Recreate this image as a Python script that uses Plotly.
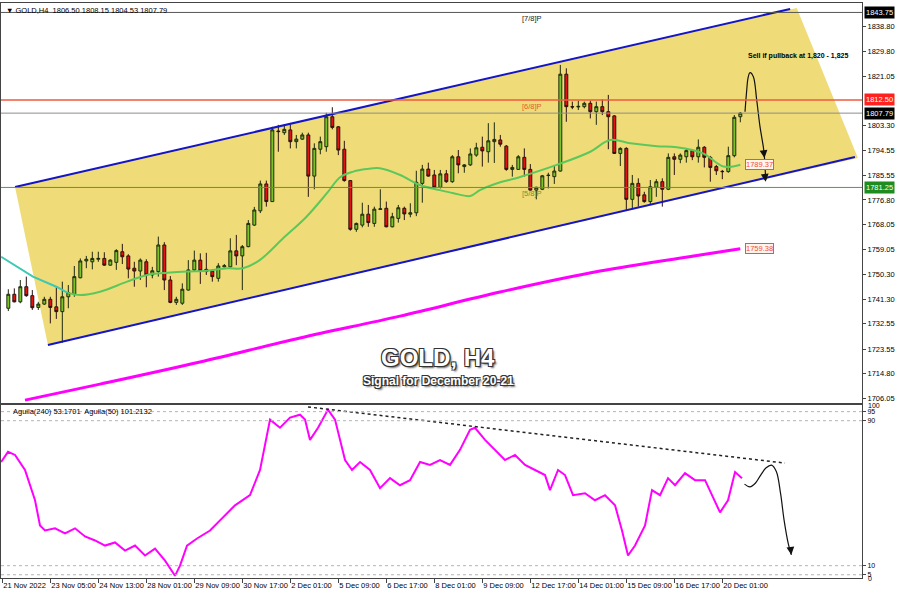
import plotly.graph_objects as go

# ---------------- data ----------------
bar = list(range(1, 124))
open_ = [1738.1, 1743.1, 1740.4, 1745.8, 1742.6, 1738.4, 1739.6, 1741.3, 1738.6, 1736.9,
         1742.2, 1743.1, 1749.0, 1755.0, 1754.7, 1755.6, 1755.9, 1753.5, 1754.5, 1758.3,
         1756.8, 1752.4, 1751.4, 1754.7, 1750.0, 1751.2, 1760.7, 1748.2, 1740.2, 1739.9,
         1744.6, 1751.8, 1755.3, 1752.0, 1751.4, 1748.8, 1752.9, 1752.9, 1758.6, 1756.8,
         1760.1, 1767.8, 1772.9, 1782.5, 1776.2, 1801.4, 1800.8, 1801.8, 1797.6, 1798.5,
         1800.0, 1785.3, 1794.9, 1795.8, 1806.5, 1802.9, 1794.9, 1783.7, 1766.3, 1767.8,
         1771.7, 1768.4, 1773.4, 1773.8, 1767.2, 1770.2, 1773.8, 1771.7, 1772.2, 1782.7,
         1787.8, 1785.7, 1781.3, 1786.1, 1783.3, 1792.2, 1788.7, 1789.3, 1792.8, 1795.6,
         1794.0, 1797.6, 1798.2, 1796.0, 1787.7, 1787.7, 1792.0, 1787.7, 1780.3, 1780.6,
         1785.5, 1785.1, 1787.1, 1821.7, 1810.1, 1810.0, 1810.1, 1811.3, 1808.3, 1810.1,
         1808.3, 1806.8, 1793.4, 1795.2, 1777.0, 1782.7, 1778.6, 1776.2, 1781.3, 1783.3,
         1780.6, 1792.2, 1791.3, 1792.2, 1794.4, 1792.2, 1795.6, 1792.0, 1788.7, 1787.0,
         1786.9, 1792.6, 1806.50]
high = [1744.9, 1745.2, 1748.2, 1749.4, 1744.6, 1740.4, 1742.2, 1742.2, 1745.6, 1747.6,
        1746.4, 1753.2, 1755.9, 1756.8, 1758.3, 1758.3, 1758.1, 1755.6, 1759.2, 1761.1,
        1757.4, 1754.7, 1755.9, 1755.6, 1752.9, 1763.7, 1761.7, 1749.6, 1742.2, 1747.0,
        1755.3, 1758.7, 1757.7, 1757.9, 1752.0, 1754.2, 1753.9, 1763.1, 1764.3, 1760.7,
        1769.6, 1774.3, 1783.7, 1783.7, 1802.9, 1803.6, 1803.8, 1803.8, 1800.0, 1800.8,
        1800.8, 1797.0, 1799.4, 1807.9, 1809.9, 1803.2, 1797.9, 1783.9, 1768.7, 1775.8,
        1775.0, 1774.4, 1780.6, 1776.2, 1772.2, 1775.0, 1774.4, 1775.6, 1787.2, 1789.3,
        1790.1, 1787.5, 1787.5, 1787.5, 1792.8, 1794.6, 1789.6, 1795.2, 1797.2, 1799.4,
        1804.2, 1804.5, 1800.0, 1796.4, 1789.3, 1792.8, 1795.2, 1789.6, 1781.5, 1785.7,
        1786.5, 1788.9, 1825.0, 1823.8, 1811.9, 1812.2, 1811.9, 1812.2, 1811.9, 1812.7,
        1814.3, 1807.1, 1795.6, 1795.6, 1785.7, 1784.5, 1779.7, 1783.9, 1784.2, 1784.5,
        1793.4, 1793.4, 1793.4, 1795.2, 1794.9, 1798.4, 1796.0, 1792.5, 1789.3, 1787.5,
        1795.8, 1807.1, 1808.15]
low = [1737.1, 1740.2, 1739.9, 1742.2, 1737.5, 1737.5, 1739.3, 1732.7, 1734.3, 1725.8,
       1738.1, 1742.2, 1748.8, 1752.4, 1752.0, 1754.7, 1753.3, 1753.3, 1751.8, 1753.9,
       1748.8, 1745.8, 1748.2, 1745.6, 1748.8, 1749.4, 1744.6, 1739.9, 1739.3, 1739.3,
       1744.4, 1751.2, 1746.8, 1750.0, 1747.6, 1747.6, 1752.7, 1752.7, 1753.5, 1744.6,
       1759.9, 1767.5, 1772.1, 1774.4, 1776.1, 1794.0, 1800.0, 1795.2, 1795.2, 1798.2,
       1777.9, 1780.6, 1793.1, 1794.0, 1802.0, 1792.8, 1783.3, 1765.8, 1765.4, 1767.0,
       1767.2, 1767.2, 1773.2, 1767.0, 1767.0, 1768.7, 1769.6, 1770.6, 1771.0, 1775.8,
       1785.1, 1780.9, 1780.9, 1782.9, 1782.9, 1786.3, 1786.5, 1788.9, 1792.2, 1788.7,
       1790.1, 1790.0, 1795.8, 1787.2, 1785.1, 1787.5, 1785.1, 1780.1, 1777.0, 1780.3,
       1780.9, 1782.5, 1786.9, 1804.7, 1809.2, 1808.9, 1809.5, 1805.9, 1803.6, 1807.1,
       1794.9, 1793.2, 1788.9, 1773.2, 1773.4, 1774.4, 1775.8, 1775.3, 1777.9, 1774.4,
       1780.3, 1785.7, 1789.9, 1790.1, 1791.0, 1790.1, 1788.4, 1783.3, 1785.7, 1784.2,
       1786.5, 1792.0, 1804.53]
close = [1743.1, 1740.4, 1745.8, 1742.6, 1738.3, 1739.6, 1741.3, 1738.4, 1736.9, 1742.2,
         1743.7, 1749.4, 1755.0, 1755.6, 1755.9, 1755.9, 1753.5, 1755.3, 1758.7, 1756.5,
         1752.1, 1751.4, 1755.3, 1750.0, 1751.5, 1760.7, 1748.2, 1740.2, 1741.3, 1744.9,
         1751.8, 1755.3, 1751.5, 1751.2, 1749.4, 1753.2, 1753.3, 1758.6, 1756.8, 1760.1,
         1768.4, 1773.2, 1782.5, 1776.2, 1801.8, 1801.2, 1802.0, 1797.6, 1798.5, 1800.0,
         1785.3, 1795.2, 1797.6, 1806.5, 1802.7, 1794.6, 1783.7, 1766.3, 1768.4, 1771.7,
         1768.7, 1773.5, 1773.6, 1767.2, 1770.8, 1774.0, 1771.8, 1772.2, 1783.1, 1787.8,
         1785.3, 1781.3, 1786.1, 1783.3, 1792.2, 1789.3, 1789.3, 1793.2, 1795.4, 1794.3,
         1797.9, 1798.4, 1796.7, 1787.7, 1788.4, 1792.2, 1787.7, 1780.3, 1781.3, 1785.4,
         1785.6, 1787.1, 1821.7, 1810.1, 1810.0, 1810.2, 1811.3, 1808.3, 1810.1, 1808.3,
         1806.5, 1793.4, 1795.2, 1777.0, 1782.7, 1778.2, 1776.2, 1781.5, 1783.3, 1780.6,
         1792.0, 1791.3, 1792.8, 1794.4, 1792.2, 1795.6, 1792.0, 1788.4, 1787.2, 1786.9,
         1792.6, 1806.3, 1807.79]

# fast moving average (green line), sampled points
ma_bar = [-0.2, 5.1, 9.1, 10.8, 12.95, 16.3, 20.8, 24.1, 27.5, 30.8, 34.1, 37.5, 40.1, 42.9,
          46.8, 50.7, 54.1, 56.3, 58.5, 60.7, 62.9, 66.3, 69.6, 72.9, 75.2, 78.0, 79.6, 82.1,
          86.3, 92.4, 98.0, 101.3, 104.7, 109.1, 112.4, 116.8, 120.2, 123.0]
ma_val = [1756.5, 1749.4, 1745.7, 1743.7, 1742.8, 1744.0, 1747.6, 1750.0, 1750.8, 1751.2,
          1751.5, 1752.4, 1752.4, 1755.3, 1763.1, 1770.8, 1779.2, 1784.9, 1786.9, 1787.8,
          1788.1, 1785.7, 1782.1, 1780.3, 1779.2, 1778.2, 1780.3, 1782.5, 1785.0, 1789.3,
          1794.0, 1798.2, 1797.0, 1796.0, 1795.6, 1793.4, 1788.7, 1789.37]

# slow moving average (magenta line)
ma_slow_bar = [3.78, 16.28, 32.95, 49.62, 66.28, 82.95, 99.62, 116.28, 123.0]
ma_slow_val = [1705.3, 1711.0, 1718.9, 1727.5, 1735.3, 1743.9, 1751.4, 1757.1, 1759.38]

# Aguila oscillator (lower panel)
osc_bar = [-0.2, 0.95, 2.12, 3.78, 5.45, 6.28, 7.12, 8.78, 10.45, 12.12, 13.78, 15.45, 17.12,
           18.78, 20.45, 22.12, 23.78, 25.45, 27.12, 27.95, 28.78, 29.62, 30.78, 32.45, 34.62,
           36.28, 38.78, 41.28, 42.95, 44.62, 46.28, 47.95, 49.62, 50.45, 51.28, 52.62, 54.28,
           55.45, 57.12, 58.28, 59.62, 61.28, 62.95, 64.62, 66.28, 67.95, 69.62, 71.28, 72.95,
           74.62, 76.28, 77.95, 78.78, 80.45, 82.12, 83.78, 85.45, 87.12, 88.78, 90.45, 91.28,
           92.62, 93.78, 95.12, 97.12, 98.78, 100.45, 102.12, 103.28, 104.28, 105.45, 107.12,
           108.28, 109.62, 110.95, 112.12, 113.78, 115.45, 117.12, 118.28, 119.62, 120.95,
           122.12, 123.28]
osc_val = [67.2, 72.8, 71.1, 62.8, 46.1, 32.2, 29.4, 30.6, 27.8, 30.6, 26.1, 23.9, 21.1,
           22.8, 18.3, 21.1, 15.6, 19.4, 12.8, 8.9, 4.4, 10.0, 21.1, 25.0, 29.4,
           35.0, 43.3, 48.9, 62.8, 90.6, 86.1, 91.7, 93.3, 90.6, 79.4, 86.1, 96.1,
           90.6, 68.3, 62.8, 67.2, 62.8, 52.8, 58.3, 54.4, 57.2, 67.2, 65.6, 68.3,
           65.6, 73.9, 85.0, 86.1, 79.4, 73.9, 68.3, 71.1, 65.6, 62.8, 60.0, 51.7,
           62.8, 60.0, 48.9, 50.0, 46.1, 48.9, 43.3, 29.4, 15.6, 21.1, 32.2,
           51.7, 48.9, 58.3, 54.4, 61.1, 57.2, 57.2, 48.9, 39.4, 46.1,
           61.7, 58.3]
osc_levels = [95, 90, 10, 5]

# time axis labels
tick_bars = [0, 8, 16, 24, 32, 40, 48, 56, 64, 72, 80, 88, 96, 104, 112, 120]
tick_text = ["21 Nov 2022", "23 Nov 05:00", "24 Nov 13:00", "28 Nov 01:00", "29 Nov 09:00",
             "30 Nov 17:00", "2 Dec 01:00", "5 Dec 09:00", "6 Dec 17:00", "8 Dec 01:00",
             "9 Dec 09:00", "12 Dec 17:00", "14 Dec 01:00", "15 Dec 09:00", "16 Dec 17:00",
             "20 Dec 01:00"]
price_ticks = [1838.80, 1829.80, 1821.05, 1803.30, 1794.55, 1785.55, 1776.80, 1768.05,
               1759.05, 1750.30, 1741.30, 1732.55, 1723.55, 1714.80, 1706.05]

level_78 = 1843.75
level_68 = 1812.50
level_58 = 1781.25
last_price = 1807.79

# channel (trend lines) anchors
chan_up_bar = [2.12, 131.3]
chan_up_val = [1781.4, 1845.0]
chan_lo_bar = [7.6, 142.1]
chan_lo_val = [1725.0, 1792.1]
chan_fill_bar = [2.12, 132.4, 142.6, 7.6]
chan_fill_val = [1781.4, 1845.3, 1791.8, 1725.0]

# hand-drawn projection curves
proj_bar = [123.78, 124.07, 124.28, 124.62, 125.17, 125.73, 126.28, 126.83, 127.03, 127.23]
proj_val = [1808.3, 1816.05, 1820.33, 1822.23, 1820.8, 1812.48, 1802.94, 1795.8, 1791.76, 1783.9]
osc_proj_bar = [123.7, 124.6, 125.5, 126.4, 127.3, 128.2, 129.0, 129.7, 130.3, 131.0, 131.5]
osc_proj_val = [55.0, 53.5, 55.5, 60.0, 64.0, 65.5, 62.0, 50.0, 35.0, 22.0, 16.0]
osc_trend_bar = [50.95, 130.45]
osc_trend_val = [97.6, 66.6]

# ---------------- figure ----------------
X_RANGE = [-0.22, 143.28]
Y_RANGE = [1704.26, 1847.12]
O_RANGE = [3.2, 98.67]
FONT = "Liberation Sans, Arial, sans-serif"

fig = go.Figure()

fig.add_trace(go.Scatter(x=ma_bar[:4], y=ma_val[:4], mode="lines", line=dict(color="#3cc8b4", width=2),
                         xaxis="x", yaxis="y", hoverinfo="skip", showlegend=False))
fig.add_trace(go.Scatter(x=ma_bar[3:], y=ma_val[3:], mode="lines", line=dict(color="#5cc85c", width=2, shape="spline"),
                         xaxis="x", yaxis="y", hoverinfo="skip", showlegend=False))
fig.add_trace(go.Scatter(x=ma_slow_bar, y=ma_slow_val, mode="lines", line=dict(color="#ff00ff", width=3, shape="spline"),
                         xaxis="x", yaxis="y", hoverinfo="skip", showlegend=False))

fig.add_trace(go.Candlestick(
    x=bar, open=open_, high=high, low=low, close=close, xaxis="x", yaxis="y",
    increasing=dict(line=dict(color="#1e2a10", width=1), fillcolor="#7cc425"),
    decreasing=dict(line=dict(color="#2a1010", width=1), fillcolor="#e0150f"),
    whiskerwidth=0, showlegend=False, hoverinfo="skip"))

fig.add_trace(go.Scatter(x=chan_up_bar, y=chan_up_val, mode="lines", line=dict(color="#1414c8", width=2),
                         xaxis="x", yaxis="y", hoverinfo="skip", showlegend=False))
fig.add_trace(go.Scatter(x=chan_lo_bar, y=chan_lo_val, mode="lines", line=dict(color="#1414c8", width=2),
                         xaxis="x", yaxis="y", hoverinfo="skip", showlegend=False))
fig.add_trace(go.Scatter(x=proj_bar, y=proj_val, mode="lines", line=dict(color="#111111", width=1.2, shape="spline"),
                         xaxis="x", yaxis="y", hoverinfo="skip", showlegend=False))

# lower panel
fig.add_trace(go.Scatter(x=osc_bar, y=osc_val, mode="lines", line=dict(color="#ff00ff", width=2),
                         xaxis="x2", yaxis="y2", hoverinfo="skip", showlegend=False))
fig.add_trace(go.Scatter(x=osc_trend_bar, y=osc_trend_val, mode="lines", line=dict(color="#222222", width=1.5, dash="dot"),
                         xaxis="x2", yaxis="y2", hoverinfo="skip", showlegend=False))
fig.add_trace(go.Scatter(x=osc_proj_bar, y=osc_proj_val, mode="lines", line=dict(color="#111111", width=1.2, shape="spline"),
                         xaxis="x2", yaxis="y2", hoverinfo="skip", showlegend=False))

shapes = []
path = "M " + " L ".join(f"{b},{v}" for b, v in zip(chan_fill_bar, chan_fill_val)) + " Z"
shapes.append(dict(type="path", path=path, xref="x", yref="y", fillcolor="#efdc78", line=dict(width=0), layer="below"))
shapes.append(dict(type="line", xref="x domain", yref="y", x0=0, x1=1, y0=level_78, y1=level_78,
                   line=dict(color="#555555", width=1)))
shapes.append(dict(type="line", xref="x domain", yref="y", x0=0, x1=1, y0=level_68, y1=level_68,
                   line=dict(color="#f05a3c", width=1.5)))
shapes.append(dict(type="line", xref="x domain", yref="y", x0=0, x1=1, y0=last_price, y1=last_price,
                   line=dict(color="#8c8c8c", width=1)))
shapes.append(dict(type="line", xref="x domain", yref="y", x0=0, x1=1, y0=level_58, y1=level_58,
                   line=dict(color="#5a9a3a", width=1)))
for lv in osc_levels:
    shapes.append(dict(type="line", xref="x2 domain", yref="y2", x0=0, x1=1, y0=lv, y1=lv,
                       line=dict(color="#b4b4b4", width=1, dash="dot")))

ann = []
def label(text, x, y, xref="paper", yref="paper", size=7.5, color="black", **kw):
    d = dict(text=text, x=x, y=y, xref=xref, yref=yref, showarrow=False,
             font=dict(family=FONT, size=size, color=color))
    d.update(kw)
    ann.append(d)

label("▼ GOLD,H4  1806.50 1808.15 1804.53 1807.79", 0.004, 1.0, xanchor="left", yanchor="top", yshift=-1)
label("Aguila(240) 53.1701  Aguila(50) 101.2132", 1.5, O_RANGE[1], xref="x2", yref="y2", xanchor="left", yanchor="top")
label("[7/8]P", 86.2, level_78, xref="x", yref="y", xanchor="left", yanchor="top", color="#222")
label("[6/8]P", 86.2, level_68, xref="x", yref="y", xanchor="left", yanchor="top", color="#e0602f")
label("[5/8]P", 86.2, level_58, xref="x", yref="y", xanchor="left", yanchor="top", color="#5a9a3a")
label("<b>Sell if pullback at 1,820 - 1,825</b>", 124, 1826.0, xref="x", yref="y", xanchor="left", yanchor="bottom", size=7)

title_shadow = "1px 1px 0px #333, -1px -1px 0px #333, 1px -1px 0px #333, -1px 1px 0px #333, 2px 2px 2px #666"
ann.append(dict(text="<b>GOLD, H4</b>", x=0.508, y=1.0 - 354/575, xref="paper", yref="paper", showarrow=False,
                font=dict(family=FONT, size=24, color="white", shadow=title_shadow)))
ann.append(dict(text="<b>Signal for December 20-21</b>", x=0.508, y=1.0 - 378/575, xref="paper", yref="paper", showarrow=False,
                font=dict(family=FONT, size=12, color="white", shadow=title_shadow)))

# right-axis value boxes
for val, bg in [(level_78, "#000000"), (level_68, "#ff2020"), (last_price, "#000000"), (level_58, "#1e8c1e")]:
    ann.append(dict(text=f"{val:.2f}", x=1.0, y=val, xref="paper", yref="y", xanchor="left", showarrow=False,
                    xshift=2, bgcolor=bg, borderpad=1, font=dict(family=FONT, size=7.5, color="white")))
for val, b in [(ma_val[-1], ma_bar[-1]), (ma_slow_val[-1], ma_slow_bar[-1])]:
    ann.append(dict(text=f"{val:.2f}", x=b + 0.7, y=val, xref="x", yref="y", xanchor="left", showarrow=False,
                    bgcolor="#fff4ec", bordercolor="#f0503c", borderwidth=1, borderpad=0,
                    font=dict(family=FONT, size=7.5, color="#f0503c")))
# oscillator scale labels at the clamped ends
label("100", 1.0, O_RANGE[1], xref="paper", yref="y2", xanchor="left", yanchor="middle", xshift=4, yshift=-1, size=7)
label("0", 1.0, O_RANGE[0], xref="paper", yref="y2", xanchor="left", yanchor="middle", xshift=4, size=7)

# arrowheads
for b, v, ref in [(proj_bar[-2], proj_val[-2], "y"), (proj_bar[-1], proj_val[-1] - 0.6, "y"),
                  (osc_proj_bar[-1], osc_proj_val[-1], "y2")]:
    ann.append(dict(x=b, y=v, xref="x" if ref == "y" else "x2", yref=ref, ax=-1, ay=-8, text="",
                    showarrow=True, arrowhead=2, arrowsize=1.3, arrowwidth=1.2, arrowcolor="#111"))

axis_font = dict(family=FONT, size=7.5, color="black")
fig.update_layout(
    width=900, height=600, margin=dict(l=1, r=38, t=3, b=22, autoexpand=False),
    paper_bgcolor="white", plot_bgcolor="white", showlegend=False, hovermode=False,
    xaxis=dict(domain=[0, 1], range=X_RANGE, anchor="y", showticklabels=False, showgrid=False,
               zeroline=False, rangeslider=dict(visible=False), showline=True, mirror=True,
               linecolor="#444", linewidth=1, ticks="", automargin=False),
    yaxis=dict(domain=[0.3043, 1], range=Y_RANGE, side="right", tickvals=price_ticks,
               ticktext=[f"{v:.2f}" for v in price_ticks], ticks="outside", ticklen=3, tickcolor="#444",
               tickfont=axis_font, showgrid=False, zeroline=False, showline=True, mirror=True,
               linecolor="#444", linewidth=1, automargin=False),
    xaxis2=dict(domain=[0, 1], range=X_RANGE, anchor="y2", matches="x", tickvals=tick_bars, ticktext=tick_text,
                ticks="outside", ticklen=4, tickcolor="#444", tickfont=axis_font, ticklabelposition="outside right",
                tickangle=0, showgrid=False, zeroline=False, showline=True, mirror=True, linecolor="#444",
                linewidth=1, automargin=False),
    yaxis2=dict(domain=[0, 0.3009], range=O_RANGE, side="right", anchor="x2", tickvals=osc_levels,
                ticktext=[str(v) for v in osc_levels], ticks="outside", ticklen=3, tickcolor="#444",
                tickfont=dict(family=FONT, size=7, color="black"), showgrid=False, zeroline=False,
                showline=True, mirror=True, linecolor="#444", linewidth=1, automargin=False),
    shapes=shapes, annotations=ann,
)

fig.write_html("out.html", config={"displayModeBar": False, "staticPlot": True},
               post_script="document.body.style.margin='0';")
